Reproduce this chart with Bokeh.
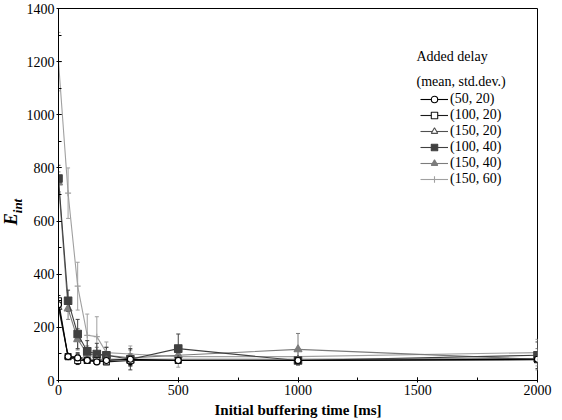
from bokeh.plotting import figure
from bokeh.layouts import row
from bokeh.models import (Range1d, Legend, LegendItem, Label, Whisker, Div,
                          ColumnDataSource, TeeHead, SingleIntervalTicker)
from bokeh.embed import file_html
from bokeh.resources import INLINE

# ---- data ----
buffering = [0, 40, 80, 120, 160, 200, 300, 500, 1000, 2000]

labels = ["(50, 20)", "(100, 20)", "(150, 20)", "(100, 40)", "(150, 40)", "(150, 60)"]

e_50_20 = [285, 90, 85, 75, 70, 75, 80, 75, 75, 80]
e_100_20 = [300, 90, 75, 75, 75, 70, 75, 75, 75, 78]
e_150_20 = [275, 90, 90, 80, 80, 80, 80, 80, 80, 82]
e_100_40 = [760, 300, 175, 110, 100, 95, 80, 120, 75, 95]
e_150_40 = [745, 270, 155, 100, 95, 95, 85, 95, 117, 80]
e_150_60 = [1200, 705, 355, 170, 165, 105, 100, 90, 90, 105]

sd_50_20 = [20, 10, 15, 10, 10, 10, 20, 10, 10, 10]
sd_100_20 = [20, 10, 15, 10, 10, 10, 20, 10, 10, 10]
sd_150_20 = [20, 10, 15, 10, 10, 10, 20, 10, 10, 10]
sd_100_40 = [50, 40, 55, 40, 40, 30, 40, 55, 15, 50]
sd_150_40 = [40, 40, 40, 30, 30, 30, 30, 30, 60, 40]
sd_150_60 = [110, 95, 90, 80, 75, 40, 30, 40, 30, 50]

series_values = [e_50_20, e_100_20, e_150_20, e_100_40, e_150_40, e_150_60]
series_sd = [sd_50_20, sd_100_20, sd_150_20, sd_100_40, sd_150_40, sd_150_60]

# ---- styles ----
styles = [
    dict(color="#000000", marker="circle", fill="white", size=6),
    dict(color="#1a1a1a", marker="square", fill="white", size=6),
    dict(color="#505050", marker="triangle", fill="white", size=7),
    dict(color="#404040", marker="square", fill="#404040", size=7.5),
    dict(color="#7c7c7c", marker="triangle", fill="#7c7c7c", size=8),
    dict(color="#a0a0a0", marker="cross", fill=None, size=6),
]

FONT = "Liberation Serif"
LEFT_W = 22

p = figure(width=562 - LEFT_W, height=420, output_backend="svg", toolbar_location=None,
           x_range=Range1d(0, 2000), y_range=Range1d(0, 1400),
           min_border_left=58 - LEFT_W, min_border_right=25, min_border_top=8,
           min_border_bottom=38)
p.xgrid.visible = False
p.ygrid.visible = False
p.outline_line_color = "#000000"
p.outline_line_width = 1
p.background_fill_color = "white"
p.border_fill_color = "white"

p.xaxis.ticker = SingleIntervalTicker(interval=500, num_minor_ticks=2)
p.yaxis.ticker = SingleIntervalTicker(interval=200, num_minor_ticks=2)
for ax in (p.xaxis[0], p.yaxis[0]):
    ax.major_tick_in = 3
    ax.major_tick_out = 2
    ax.minor_tick_in = 3
    ax.minor_tick_out = 0
    ax.axis_line_color = "black"
    ax.major_tick_line_color = "black"
    ax.minor_tick_line_color = "black"
    ax.major_label_text_font = FONT
    ax.major_label_text_font_size = "14px"
    ax.major_label_text_color = "black"
    ax.major_label_standoff = 2

p.xaxis.axis_label = "Initial buffering time [ms]"
p.xaxis.axis_label_text_font = FONT
p.xaxis.axis_label_text_font_style = "bold"
p.xaxis.axis_label_text_font_size = "15px"
p.xaxis.axis_label_text_color = "black"
p.xaxis.axis_label_standoff = 4

items = {}
order = [5, 4, 3, 2, 1, 0]
for i in order:
    st = styles[i]
    src = ColumnDataSource(dict(x=buffering, y=series_values[i],
                                lo=[v - s for v, s in zip(series_values[i], series_sd[i])],
                                hi=[v + s for v, s in zip(series_values[i], series_sd[i])]))
    w = Whisker(source=src, base="x", lower="lo", upper="hi", line_color=st["color"],
                line_width=1,
                upper_head=TeeHead(size=4, line_color=st["color"], line_width=1),
                lower_head=TeeHead(size=4, line_color=st["color"], line_width=1))
    p.add_layout(w)
    lr = p.line("x", "y", source=src, line_color=st["color"], line_width=1.1)
    if st["fill"] is None:
        sr = p.scatter("x", "y", source=src, marker=st["marker"], size=st["size"],
                       line_color=st["color"], line_width=1.1)
    else:
        sr = p.scatter("x", "y", source=src, marker=st["marker"], size=st["size"],
                       line_color=st["color"], fill_color=st["fill"], line_width=1.1)
    items[i] = LegendItem(label=labels[i], renderers=[lr, sr])

legend = Legend(items=[items[i] for i in range(6)], location=(362, 193),
                padding=0, margin=0, spacing=0, label_height=16, glyph_height=16,
                glyph_width=28, label_standoff=2, border_line_color=None,
                background_fill_alpha=0, label_text_font=FONT,
                label_text_font_size="14px", label_text_color="black")
p.add_layout(legend)

p.add_layout(Label(x=358, y=324, x_units="screen", y_units="screen", text="Added delay",
                   text_font=FONT, text_font_size="14px", text_color="black",
                   text_baseline="middle"))
p.add_layout(Label(x=358, y=299, x_units="screen", y_units="screen",
                   text="(mean, std.dev.)", text_font=FONT, text_font_size="14px",
                   text_color="black", text_baseline="middle"))

# y-axis title E_int (rotated, with subscript)
ylabel = Div(width=LEFT_W, height=420, margin=(0, 0, 0, 0), text=(
    '<div style="position:relative;width:%dpx;height:420px;">'
    '<span style="position:absolute;left:13px;top:212px;'
    'transform:translate(-50%%,-50%%) rotate(-90deg);white-space:nowrap;'
    "font-family:'Liberation Serif';font-size:18px;font-weight:bold;"
    'font-style:italic;color:black;line-height:1;">E<sub style="font-size:13px;">int</sub>'
    '</span></div>') % LEFT_W,
    styles={"background-color": "white"})

layout = row(ylabel, p, spacing=0)
open("out.html", "w").write(file_html(layout, INLINE))
